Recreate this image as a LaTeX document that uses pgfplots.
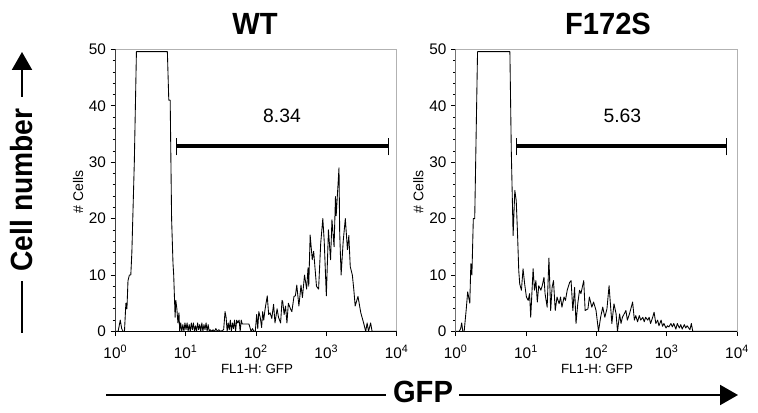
\documentclass[border=0pt]{standalone}
\usepackage{fontspec}
\setmainfont{Liberation Sans}
\usepackage{pgfplots}
\usepackage{pgfplotstable}
\pgfplotsset{compat=1.18}
\usetikzlibrary{arrows.meta}

\pgfplotstableread{
d v
0 0
0.04 0
0.07 2
0.09 0.5
0.11 0
0.13 0
0.15 5
0.165 4
0.18 9
0.20 10
0.22 10
0.235 14
0.27 30
0.30 49.6
0.74 49.6
0.76 41
0.78 41
0.80 20
0.82 12
0.83 10
0.85 2.5
0.86 5.5
0.875 4
0.89 1.5
0.905 3.3
0.915 0
0.93 1.5
0.945 0
0.96 1.2
0.975 0
0.99 1.5
1.005 0.3
1.02 1.5
1.035 0
1.05 1.2
1.065 0
1.08 1.5
1.095 0.3
1.11 1.5
1.125 0
1.14 1
1.155 0
1.17 1.5
1.185 0.3
1.20 1.2
1.215 0
1.23 1.5
1.245 0
1.26 1.2
1.275 0.3
1.29 1.5
1.305 0
1.32 1.2
1.335 0
1.35 0.3
1.37 0
1.39 0.3
1.41 0
1.43 0.5
1.45 0
1.47 0.3
1.50 0
1.54 0.3
1.56 3.5
1.575 2.5
1.59 0
1.605 1.5
1.62 0.3
1.635 2
1.65 0
1.665 1.5
1.68 0.5
1.695 2
1.71 0
1.725 2
1.74 1.5
1.76 2
1.775 0
1.79 2
1.805 1.3
1.82 1.3
1.85 1.3
1.88 1.3
1.90 1.3
1.93 0
1.95 0.5
1.97 0
1.99 0
2.01 3
2.025 0.5
2.04 3.5
2.06 2.5
2.08 0.7
2.095 3.5
2.11 2
2.13 4
2.16 6.3
2.18 3
2.20 3.3
2.225 2.3
2.25 4.8
2.27 1.5
2.30 4
2.32 2.5
2.35 1.5
2.37 5.5
2.38 5.3
2.40 3
2.42 4.5
2.44 1.5
2.46 5
2.49 4
2.51 3.5
2.54 6.2
2.56 6.3
2.58 8.2
2.61 4.5
2.64 8.2
2.66 6
2.69 10
2.72 7.5
2.74 11.3
2.75 8
2.77 17.1
2.80 12.7
2.82 14.2
2.86 8
2.89 7.5
2.92 15.6
2.95 20
2.97 16
3.00 6.3
3.03 18
3.06 12.7
3.08 19.8
3.11 15
3.13 23.9
3.14 20.5
3.18 29
3.19 17.5
3.21 10
3.24 16
3.27 20
3.30 14.5
3.32 17
3.34 11.5
3.37 10
3.39 7.5
3.41 4.5
3.45 6.2
3.49 3.3
3.53 1.5
3.56 0
3.58 1.5
3.60 0
3.63 1.5
3.65 0
3.70 0
4.0 0
}\wtdata

\pgfplotstableread{
d v
0 0
0.05 0
0.07 0.5
0.085 1.5
0.10 0
0.12 0
0.15 4
0.17 7
0.20 5
0.215 12
0.23 10
0.25 20
0.27 20
0.31 49.6
0.77 49.6
0.79 32
0.816 17
0.84 25
0.86 23.2
0.877 17.9
0.896 10.8
0.91 8.4
0.934 7.3
0.957 11.1
0.98 8.4
1.005 6.1
1.03 5.5
1.05 6.7
1.066 2.5
1.10 11.1
1.12 7.3
1.14 9
1.16 5.2
1.18 8.1
1.21 7.3
1.23 8.1
1.255 9.6
1.27 6.7
1.30 4.3
1.325 13
1.35 3.7
1.37 7.8
1.39 9
1.415 3.7
1.44 6.1
1.47 4.9
1.49 6.1
1.51 4.3
1.54 6.1
1.56 5.5
1.585 7.3
1.62 8.7
1.64 9
1.665 3.7
1.69 7.8
1.71 1.4
1.735 4.9
1.76 7.3
1.78 6.7
1.82 9
1.84 3.7
1.88 4
1.90 6.1
1.935 4.3
1.96 5.2
1.995 3.7
2.03 0
2.06 2.5
2.09 4.3
2.12 2.5
2.15 4
2.18 8.1
2.22 1.4
2.25 4.9
2.28 3.1
2.30 0
2.33 3.1
2.35 1.4
2.37 2.5
2.42 3.7
2.44 2
2.47 3.1
2.515 5.2
2.54 2
2.56 2.8
2.585 1.7
2.61 2.8
2.63 2
2.66 2.5
2.68 1.7
2.70 2.5
2.73 2
2.75 2.5
2.77 1.4
2.80 2.5
2.82 3.4
2.845 1.4
2.87 2
2.89 1
2.92 2
2.94 0.9
2.96 1.4
2.99 0.6
3.01 1
3.03 0.8
3.06 1.4
3.08 0.8
3.10 1.4
3.13 0.4
3.15 1.4
3.18 0.6
3.20 1.2
3.22 0.4
3.25 1.2
3.27 0.6
3.29 1
3.33 0.3
3.35 1.4
3.37 0
3.45 0
4.0 0
}\mutdata

\begin{document}
\begin{tikzpicture}
\useasboundingbox (0,0) rectangle (568.5pt,309.75pt);

% left panel
\begin{axis}[
    at={(86.5pt,61.2pt)}, anchor=south west,
    scale only axis,
    width=211pt, height=211.5pt,
    xmode=log, log basis x=10,
    xmin=1, xmax=10000, ymin=0, ymax=50,
    xtick={1,10,100,1000,10000},
    xticklabels={10\textsuperscript{0},10\textsuperscript{1},10\textsuperscript{2},10\textsuperscript{3},10\textsuperscript{4}},
    ytick={0,10,20,30,40,50},
    minor y tick num=4,
    tick align=outside,
    xtick pos=bottom, ytick pos=left,
    major tick length=3.5pt, minor tick length=2pt,
    every tick/.style={black, line width=0.5pt},
    axis line style={gray!60, line width=0.5pt},
    /pgf/number format/assume math mode=true,
    tick label style={font=\fontsize{11.5}{12}\selectfont},
    xticklabel style={yshift=-3.5pt},
  ]
\addplot[black, line width=0.65pt, line join=round] table[x expr={10^\thisrowno{0}}, y index=1] {\wtdata};
\addplot[black, line width=3pt] coordinates {(7.31,32.8) (7586,32.8)};
\addplot[black, line width=0.6pt] coordinates {(7.31,31.2) (7.31,34.3)};
\addplot[black, line width=0.6pt] coordinates {(7586,31.2) (7586,34.3)};
\node[font=\fontsize{14.5}{16}\selectfont] at (axis cs:234,38.3) {8.34};
\draw[black, line width=0.9pt] (rel axis cs:0,1) -- (rel axis cs:0,0) -- (rel axis cs:1,0);
\end{axis}

% right panel
\begin{axis}[
    at={(341.8pt,61.2pt)}, anchor=south west,
    scale only axis,
    width=211pt, height=211.5pt,
    xmode=log, log basis x=10,
    xmin=1, xmax=10000, ymin=0, ymax=50,
    xtick={1,10,100,1000,10000},
    xticklabels={10\textsuperscript{0},10\textsuperscript{1},10\textsuperscript{2},10\textsuperscript{3},10\textsuperscript{4}},
    ytick={0,10,20,30,40,50},
    minor y tick num=4,
    tick align=outside,
    xtick pos=bottom, ytick pos=left,
    major tick length=3.5pt, minor tick length=2pt,
    every tick/.style={black, line width=0.5pt},
    axis line style={gray!60, line width=0.5pt},
    /pgf/number format/assume math mode=true,
    tick label style={font=\fontsize{11.5}{12}\selectfont},
    xticklabel style={yshift=-3.5pt},
  ]
\addplot[black, line width=0.65pt, line join=round] table[x expr={10^\thisrowno{0}}, y index=1] {\mutdata};
\addplot[black, line width=3pt] coordinates {(7.24,32.8) (7079,32.8)};
\addplot[black, line width=0.6pt] coordinates {(7.24,31.2) (7.24,34.3)};
\addplot[black, line width=0.6pt] coordinates {(7079,31.2) (7079,34.3)};
\node[font=\fontsize{14.5}{16}\selectfont] at (axis cs:234,38.3) {5.63};
\draw[black, line width=0.9pt] (rel axis cs:0,1) -- (rel axis cs:0,0) -- (rel axis cs:1,0);
\end{axis}

% titles
\node[font=\fontsize{23}{26}\selectfont\bfseries] at (191.25pt,291.75pt) {\scalebox{0.95}[1]{WT}};
\node[font=\fontsize{23}{26}\selectfont\bfseries] at (456pt,291.75pt) {\scalebox{0.95}[1]{F172S}};

% small axis labels
\node[rotate=90, font=\fontsize{10.5}{12}\selectfont] at (58.5pt,165.75pt) {\# Cells};
\node[rotate=90, font=\fontsize{10.5}{12}\selectfont] at (313.8pt,165.75pt) {\# Cells};
\node[font=\fontsize{10}{12}\selectfont] at (192.75pt,33pt) {FL1-H: GFP};
\node[font=\fontsize{10}{12}\selectfont] at (447.75pt,33pt) {FL1-H: GFP};

% big GFP arrow
\draw[line width=1.5pt] (79.5pt,13.5pt) -- (289.5pt,13.5pt);
\node[font=\fontsize{23}{26}\selectfont\bfseries] at (317.25pt,16pt) {\scalebox{0.95}[1]{GFP}};
\draw[line width=1.5pt, -{Triangle[length=13.5pt,width=15pt]}] (344.25pt,13.5pt) -- (553.5pt,13.5pt);

% big Cell number arrow
\draw[line width=1.5pt] (16.5pt,60pt) -- (16.5pt,99pt);
\node[rotate=90, font=\fontsize{23}{26}\selectfont\bfseries] at (16.5pt,167.25pt) {\scalebox{0.92}[1]{Cell number}};
\draw[line width=1.5pt, -{Triangle[length=13.5pt,width=15pt]}] (16.5pt,237pt) -- (16.5pt,270.75pt);
\end{tikzpicture}
\end{document}
